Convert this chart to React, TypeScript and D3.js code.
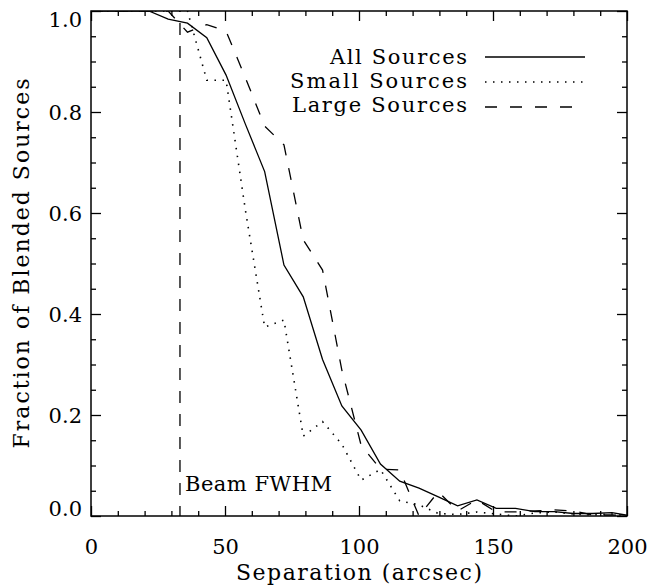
import React, { useEffect, useRef } from 'react';
import * as d3 from 'd3';

// separation bins (arcsec)
const separation = [0, 7.2, 14.4, 21.6, 28.8, 36, 43.2, 50.4, 57.6, 64.8, 72, 79.2, 86.4, 93.6,
  100.8, 108, 115.2, 122.4, 129.6, 136.8, 144, 151.2, 158.4, 165.6, 172.8, 180, 187.2, 194.4, 201.6];

const allSources = [1.0, 1.0, 1.0, 1.0, 0.984, 0.976, 0.947, 0.873, 0.776, 0.682, 0.497, 0.434, 0.31, 0.218,
  0.17, 0.103, 0.069, 0.055, 0.038, 0.02, 0.032, 0.015, 0.015, 0.0085, 0.0085, 0.005, 0.005, 0.0065, 0.0];

const smallSources = [1.0, 1.0, 1.0, 1.0, 1.0, 1.0, 0.863, 0.863, 0.606, 0.374, 0.388, 0.158, 0.187, 0.142,
  0.071, 0.092, 0.03, 0.022, 0.005, 0.003, 0.008, 0.004, 0.0, 0.006, 0.008, 0.004, 0.002, 0.004, 0.0];

const largeSources = [1.0, 1.0, 1.0, 1.0, 1.0, 0.958, 0.973, 0.96, 0.868, 0.772, 0.735, 0.547, 0.487, 0.289,
  0.14, 0.093, 0.091, 0.0, 0.048, 0.01, 0.032, 0.008, 0.008, 0.01, 0.012, 0.01, 0.002, 0.002, 0.0];

const beamFwhm = 33.2;

const xMajor = [0, 50, 100, 150, 200];
const yMajor = [0.0, 0.2, 0.4, 0.6, 0.8, 1.0];

const series = [
  { label: 'All Sources', values: allSources, dash: null },
  { label: 'Small Sources', values: smallSources, dash: '1.5 6.5' },
  { label: 'Large Sources', values: largeSources, dash: '12 13' },
];

const FONT = "'DejaVu Serif', serif";

const App: React.FC = () => {
  const svgRef = useRef<SVGSVGElement>(null);

  useEffect(() => {
    const svg = d3.select(svgRef.current);
    svg.selectAll('*').remove();

    const left = 91, right = 627, top = 11, bottom = 516;
    const x = d3.scaleLinear().domain([0, 200]).range([left, right]);
    const y = d3.scaleLinear().domain([0, 1]).range([bottom, top]);

    svg.append('defs').append('clipPath').attr('id', 'plot')
      .append('rect').attr('x', left).attr('y', top).attr('width', right - left).attr('height', bottom - top);

    const xMinor = d3.range(0, 201, 10).filter(v => !xMajor.includes(v));
    const yMinor = d3.range(0, 21).map(i => i * 0.05).filter(v => Math.abs(v * 5 - Math.round(v * 5)) > 1e-6);

    const styleAxis = (g: d3.Selection<SVGGElement, unknown, null, undefined>) => {
      g.select('.domain').remove();
      g.selectAll('line').attr('stroke', '#000').attr('stroke-width', 1.3);
      g.selectAll('text').attr('font-family', FONT).attr('font-size', 21).attr('fill', '#000');
    };

    // bottom
    svg.append('g').attr('transform', `translate(0,${bottom})`)
      .call(d3.axisBottom(x).tickValues(xMajor).tickSize(-10).tickPadding(23).tickFormat(d3.format('d')))
      .call(styleAxis);
    svg.append('g').attr('transform', `translate(0,${bottom})`)
      .call(d3.axisBottom(x).tickValues(xMinor).tickSize(-5).tickFormat(() => ''))
      .call(styleAxis);
    // top
    svg.append('g').attr('transform', `translate(0,${top})`)
      .call(d3.axisTop(x).tickValues(xMajor).tickSize(-10).tickFormat(() => ''))
      .call(styleAxis);
    svg.append('g').attr('transform', `translate(0,${top})`)
      .call(d3.axisTop(x).tickValues(xMinor).tickSize(-5).tickFormat(() => ''))
      .call(styleAxis);
    // left
    const yAxisG = svg.append('g').attr('transform', `translate(${left},0)`)
      .call(d3.axisLeft(y).tickValues(yMajor).tickSize(-10).tickPadding(9).tickFormat(d3.format('.1f')))
      .call(styleAxis);
    yAxisG.selectAll<SVGTextElement, number>('text')
      .attr('dy', d => (d === 0 ? '-0.02em' : d === 1 ? '0.72em' : '0.36em'));
    svg.append('g').attr('transform', `translate(${left},0)`)
      .call(d3.axisLeft(y).tickValues(yMinor).tickSize(-5).tickFormat(() => ''))
      .call(styleAxis);
    // right
    svg.append('g').attr('transform', `translate(${right},0)`)
      .call(d3.axisRight(y).tickValues(yMajor).tickSize(-10).tickFormat(() => ''))
      .call(styleAxis);
    svg.append('g').attr('transform', `translate(${right},0)`)
      .call(d3.axisRight(y).tickValues(yMinor).tickSize(-5).tickFormat(() => ''))
      .call(styleAxis);

    // frame
    svg.append('rect')
      .attr('x', left).attr('y', top).attr('width', right - left).attr('height', bottom - top)
      .attr('fill', 'none').attr('stroke', '#000').attr('stroke-width', 1.5);

    // curves
    const line = d3.line<number>().x((_, i) => x(separation[i])).y(d => y(d));
    const curves = svg.append('g').attr('clip-path', 'url(#plot)');
    series.forEach(s => {
      curves.append('path')
        .datum(s.values)
        .attr('fill', 'none')
        .attr('stroke', '#000')
        .attr('stroke-width', s.dash === '1.5 6.5' ? 1.6 : 1.3)
        .attr('stroke-dasharray', s.dash)
        .attr('d', line);
    });

    // beam FWHM marker
    svg.append('line')
      .attr('x1', x(beamFwhm)).attr('x2', x(beamFwhm))
      .attr('y1', top).attr('y2', bottom)
      .attr('stroke', '#000').attr('stroke-width', 1.3)
      .attr('stroke-dasharray', '12 11').attr('stroke-dashoffset', -12);
    svg.append('text')
      .attr('x', x(beamFwhm) + 5).attr('y', 491)
      .attr('font-family', FONT).attr('font-size', 21)
      .attr('textLength', 147).attr('lengthAdjust', 'spacing')
      .text('Beam FWHM');

    // legend
    const legendY = [57, 82, 107];
    const textY = [64, 88, 112];
    const textLen = [137, 177, 175];
    series.forEach((s, i) => {
      svg.append('text')
        .attr('x', 467).attr('y', textY[i])
        .attr('text-anchor', 'end')
        .attr('font-family', FONT).attr('font-size', 21)
        .attr('textLength', textLen[i]).attr('lengthAdjust', 'spacing')
        .text(s.label);
      svg.append('line')
        .attr('x1', 485).attr('x2', 585)
        .attr('y1', legendY[i]).attr('y2', legendY[i])
        .attr('stroke', '#000')
        .attr('stroke-width', s.dash === '1.5 6.5' ? 1.6 : 1.3)
        .attr('stroke-dasharray', s.dash);
    });

    // axis titles
    svg.append('text')
      .attr('x', (left + right) / 2).attr('y', 580)
      .attr('text-anchor', 'middle')
      .attr('font-family', FONT).attr('font-size', 22)
      .attr('textLength', 246).attr('lengthAdjust', 'spacing')
      .text('Separation (arcsec)');
    svg.append('text')
      .attr('transform', `translate(29,${(top + bottom) / 2}) rotate(-90)`)
      .attr('text-anchor', 'middle')
      .attr('font-family', FONT).attr('font-size', 22)
      .attr('textLength', 370).attr('lengthAdjust', 'spacing')
      .text('Fraction of Blended Sources');
  }, []);

  return (
    <svg ref={svgRef} width={650} height={587}
      style={{ position: 'absolute', left: 0, top: 0, background: '#fff' }} />
  );
};

export default App;
